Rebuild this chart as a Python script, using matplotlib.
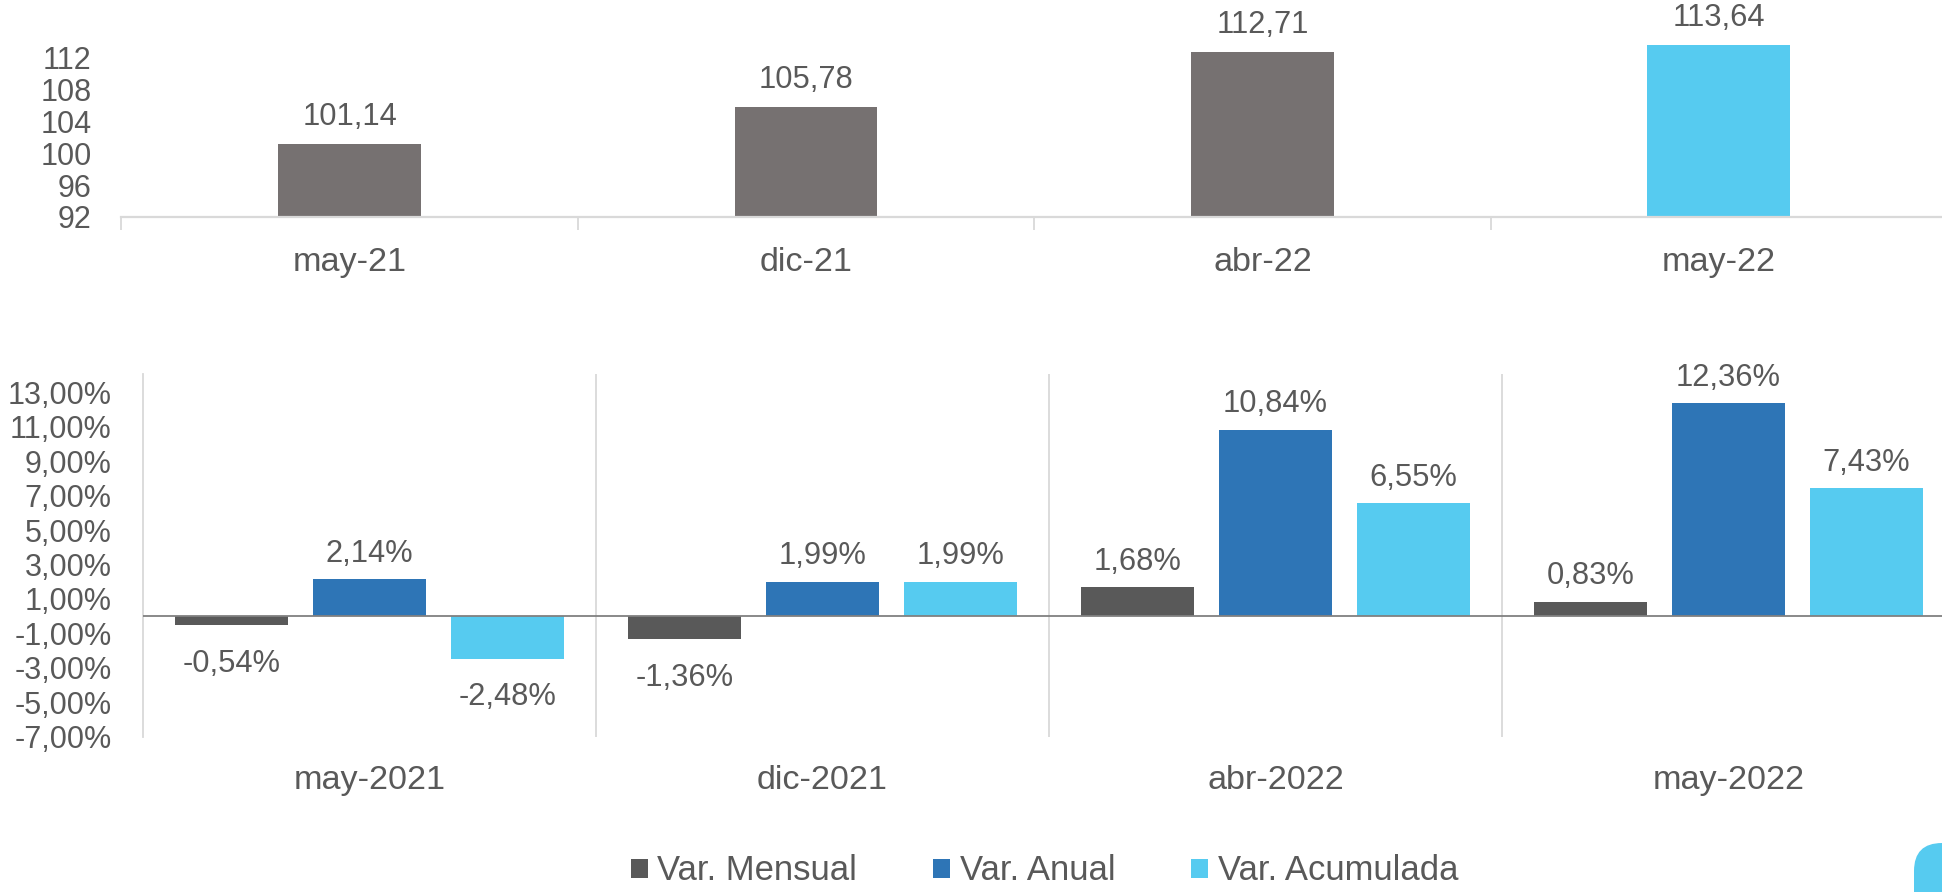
import matplotlib
matplotlib.use('Agg')
import matplotlib.pyplot as plt
from matplotlib import font_manager
from matplotlib.patches import Patch, FancyBboxPatch
from matplotlib.transforms import IdentityTransform

# ---------------- data ----------------
top_categories = ['may-21', 'dic-21', 'abr-22', 'may-22']
top_values = [101.14, 105.78, 112.71, 113.64]
top_ticks = [92, 96, 100, 104, 108, 112]

bottom_categories = ['may-2021', 'dic-2021', 'abr-2022', 'may-2022']
series_names = ['Var. Mensual', 'Var. Anual', 'Var. Acumulada']
var_mensual = [-0.54, -1.36, 1.68, 0.83]
var_anual = [2.14, 1.99, 10.84, 12.36]
var_acumulada = [-2.48, 1.99, 6.55, 7.43]
bottom_ticks = [-7, -5, -3, -1, 1, 3, 5, 7, 9, 11, 13]

# ---------------- style ----------------
names = {f.name for f in font_manager.fontManager.ttflist}
FONT = 'Liberation Sans' if 'Liberation Sans' in names else 'DejaVu Sans'
k = 1.0 if FONT == 'Liberation Sans' else 0.88
plt.rcParams['font.family'] = [FONT, 'DejaVu Sans']

TXT = '#595959'
C_TOP = '#767171'
C_TOP_LAST = '#56CBF0'
C_MENS = '#595959'
C_ANUAL = '#2E75B6'
C_ACUM = '#56CBF0'
GRID = '#D9D9D9'

W, H = 1942, 892
fig = plt.figure(figsize=(W / 100, H / 100), dpi=100)


def rect(x0, y0, x1, y1):
    return [x0 / W, 1 - y1 / H, (x1 - x0) / W, (y1 - y0) / H]


def pct(v):
    return f"{v:.2f}".replace('.', ',') + '%'


def num(v):
    return f"{v:.2f}".replace('.', ',')


FS_TICK = 22.0 * k
FS_LAB = 22.2 * k
FS_CAT = 24.6 * k
FS_LEG = 24.9 * k

# ---------------- top chart ----------------
ax1 = fig.add_axes(rect(121.4, 0, 1947, 217))
xs = list(range(len(top_categories)))
cols = [C_TOP] * (len(top_values) - 1) + [C_TOP_LAST]
ax1.bar(xs, top_values, width=0.313, color=cols, zorder=2)
ax1.set_xlim(-0.5, len(top_categories) - 0.5)
ax1.set_ylim(92, 119.25)
ax1.set_yticks(top_ticks, labels=[str(t) for t in top_ticks])
ax1.tick_params(axis='y', length=0, pad=21.6, labelsize=FS_TICK, labelcolor=TXT)
ax1.set_xticks([x - 0.5 for x in xs] + [len(xs) - 0.5])
ax1.set_xticklabels([])
ax1.tick_params(axis='x', length=9.4, width=1.3, color=GRID, direction='out')
for s in ['top', 'right', 'left']:
    ax1.spines[s].set_visible(False)
ax1.spines['bottom'].set_color(GRID)
ax1.spines['bottom'].set_linewidth(1.6)
for x, v in zip(xs, top_values):
    ax1.annotate(num(v), xy=(x, v), xytext=(0, 13.7), textcoords='offset points',
                 ha='center', va='baseline', fontsize=FS_LAB, color=TXT)
for x, c in zip(xs, top_categories):
    ax1.annotate(c, xy=(x, 0), xycoords=('data', 'axes fraction'), xytext=(0, -38.9),
                 textcoords='offset points', ha='center', va='baseline',
                 fontsize=FS_CAT, color=TXT, annotation_clip=False)

# ---------------- bottom chart ----------------
ax2 = fig.add_axes(rect(142.9, 374, 1955, 736.5))
series = [var_mensual, var_anual, var_acumulada]
colors = [C_MENS, C_ANUAL, C_ACUM]
offsets = [-0.305, 0.0, 0.305]
bx = list(range(len(bottom_categories)))
for vals, col, off, name in zip(series, colors, offsets, series_names):
    pos = [x + off for x in bx]
    ax2.bar(pos, vals, width=0.249, color=col, label=name, zorder=2)
    for p, v in zip(pos, vals):
        if v >= 0:
            ax2.annotate(pct(v), xy=(p, v), xytext=(0, 12.7), textcoords='offset points',
                         ha='center', va='baseline', fontsize=FS_LAB, color=TXT)
        else:
            ax2.annotate(pct(v), xy=(p, v), xytext=(0, -33.3), textcoords='offset points',
                         ha='center', va='baseline', fontsize=FS_LAB, color=TXT)
ax2.set_xlim(-0.5, len(bottom_categories) - 0.5)
ax2.set_ylim(-7, 14.07)
ax2.set_yticks(bottom_ticks, labels=[pct(t) for t in bottom_ticks])
ax2.tick_params(axis='y', length=0, pad=22.5, labelsize=FS_TICK, labelcolor=TXT)
ax2.set_xticks([])
for s in ['top', 'right', 'bottom']:
    ax2.spines[s].set_visible(False)
ax2.spines['left'].set_color(GRID)
ax2.spines['left'].set_linewidth(1.3)
for b in range(1, len(bottom_categories)):
    ax2.axvline(b - 0.5, color=GRID, lw=1.3, zorder=1)
ax2.axhline(0, color='#808080', lw=1.3, zorder=3)
for x, c in zip(bx, bottom_categories):
    ax2.annotate(c, xy=(x, 0), xycoords=('data', 'axes fraction'), xytext=(0, -37.8),
                 textcoords='offset points', ha='center', va='baseline',
                 fontsize=FS_CAT, color=TXT, annotation_clip=False)

# ---------------- legend ----------------
handles = [Patch(facecolor=c, edgecolor='none') for c in colors]
leg = fig.legend(handles, series_names, loc='center', ncol=3,
                 bbox_to_anchor=(1044.5 / W, 1 - 871 / H), frameon=False,
                 fontsize=FS_LEG, handlelength=0.48, handleheight=0.48,
                 handletextpad=0.28, columnspacing=2.2, borderpad=0)
for t in leg.get_texts():
    t.set_color(TXT)

# decorative corner shape
blob = FancyBboxPatch((1914, -60), 120, (H - 843) + 60,
                      boxstyle='round,pad=0,rounding_size=28',
                      facecolor=C_ACUM, edgecolor='none',
                      transform=IdentityTransform())
fig.patches.append(blob)

fig.savefig('out.png', dpi=100)
